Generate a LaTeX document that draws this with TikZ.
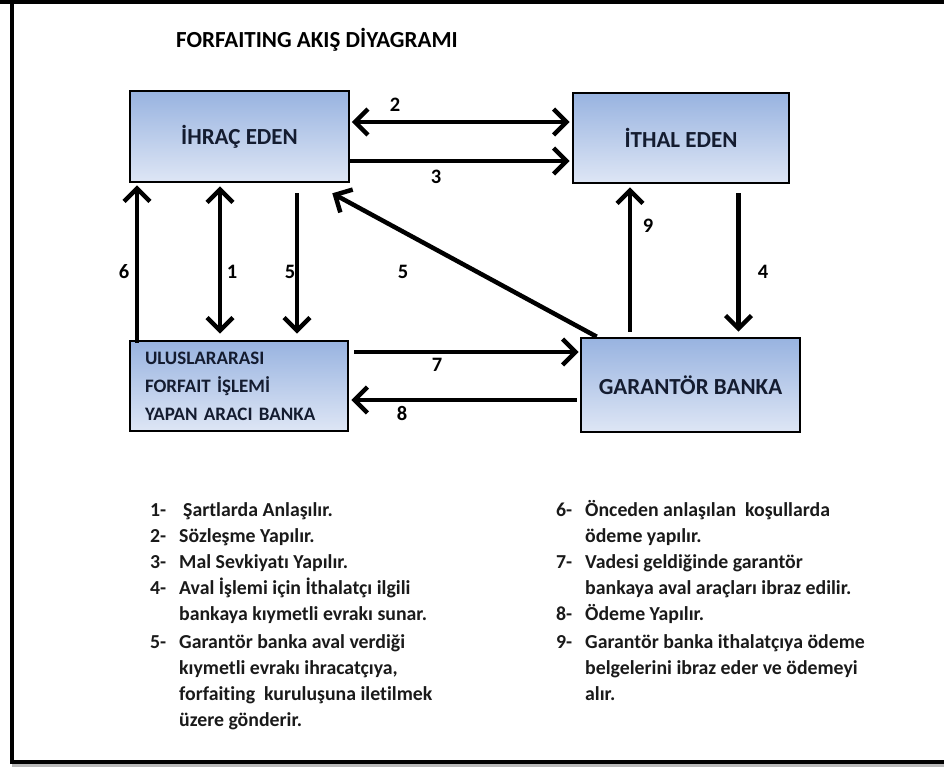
\documentclass[tikz,border=0pt]{standalone}
\usepackage{fontspec}
\setmainfont{Carlito}[Ligatures={NoCommon}]
\usetikzlibrary{arrows.meta,calc}
\definecolor{boxtop}{HTML}{98B3E0}
\definecolor{boxbot}{HTML}{DEE6F5}
\definecolor{boxtext}{HTML}{141C30}
\definecolor{legtext}{HTML}{1A1A1A}
\tikzset{
  flowbox/.style={draw=black, line width=2.6pt, top color=boxtop, bottom color=boxbot,
    minimum width=219pt, minimum height=91pt, inner sep=0pt, text=boxtext,
    font=\fontsize{23}{26}\selectfont\bfseries},
  flowarrow/.style={line width=4.5pt, -{Straight Barb[length=13pt,width=26pt]}},
  flowboth/.style={line width=4.5pt, {Straight Barb[length=13pt,width=26pt]}-{Straight Barb[length=13pt,width=26pt]}},
  numlabel/.style={font=\fontsize{20.5}{22}\selectfont\bfseries, inner sep=0pt},
  legnum/.style={anchor=base west, inner sep=0pt, text=legtext, font=\fontsize{19.8}{22}\selectfont\bfseries},
  legline/.style={anchor=base west, inner sep=0pt, text=legtext, font=\fontsize{19.8}{22}\selectfont\bfseries},
}
\begin{document}
\begin{tikzpicture}[x=1pt,y=-1pt]
\useasboundingbox (0,0) rectangle (944,767);
% frame
\draw[gray!55, line width=3pt] (12,765.5) -- (944,765.5);
\draw[black, line width=4pt] (11.5,-5) -- (11.5,761.5) -- (960,761.5);
\draw[black, line width=4pt] (0,2) -- (960,2);
% title
\node[anchor=base west, inner sep=0pt, font=\fontsize{23}{26}\selectfont\bfseries] (title) at (176,48) {FORFAITING AKIŞ DİYAGRAMI};
% boxes
\node[flowbox] (ihrac) at (239.5,136.5) {İHRAÇ EDEN};
\node[flowbox, minimum width=216pt, minimum height=90pt] (ithal) at (681,138) {İTHAL EDEN};
\node[flowbox, minimum width=218pt, minimum height=90pt, align=left, anchor=center,
      font=\fontsize{19}{28}\selectfont\bfseries, text width=188pt] (ulus) at (239,386)
      {ULUSLARARASI\\FORFAIT\ İŞLEMİ\\YAPAN ARACI BANKA};
\node[flowbox, minimum height=94pt] (garantor) at (690.5,385) {GARANTÖR BANKA};
% connector anchors
\coordinate (p2) at ([yshift=14.5pt]ihrac.east);
\coordinate (p3) at ([yshift=-24.5pt]ihrac.east);
\coordinate (p6) at ([xshift=-102pt]ulus.north);
\coordinate (p1) at ([xshift=-19.5pt]ihrac.south);
\coordinate (p5) at ([xshift=57.5pt]ihrac.south);
\coordinate (p5d) at ([xshift=17pt]garantor.north west);
\coordinate (q5d) at ([xshift=-18pt,yshift=-10pt]ihrac.south east);
\coordinate (p9) at ([xshift=-60.5pt]garantor.north);
\coordinate (p4) at ([xshift=57.5pt]ithal.south);
\coordinate (p7) at ([yshift=34pt]ulus.east);
\coordinate (p8) at ([yshift=-15pt]garantor.west);
% arrows
\draw[flowboth, shorten <=1.5pt, shorten >=2pt] (p2) -- (p2 -| ithal.west);
\draw[flowarrow, shorten >=2pt] (p3) -- (p3 -| ithal.west);
\draw[flowarrow, shorten <=-3pt, shorten >=2pt] (p6) -- (p6 |- ihrac.south);
\draw[flowboth, shorten <=3pt, shorten >=6pt] (p1) -- (p1 |- ulus.north);
\draw[flowarrow, shorten <=10pt, shorten >=6pt] (p5) -- (p5 |- ulus.north);
\draw[flowarrow] (p5d) -- (q5d);
\draw[flowarrow, shorten <=5pt, shorten >=3pt] (p9) -- (p9 |- ithal.south);
\draw[flowarrow, shorten <=9pt, shorten >=5pt] (p4) -- (p4 |- garantor.north);
\draw[flowarrow, shorten <=5pt, shorten >=1pt] (p7) -- (p7 -| garantor.west);
\draw[flowarrow, shorten <=3pt, shorten >=2pt] (p8) -- (p8 -| ulus.east);
% numeric labels
\node[numlabel] (l2) at (395,105) {2};
\node[numlabel] (l3) at (436,177) {3};
\node[numlabel] (l6) at (124,272) {6};
\node[numlabel] (l1) at (232,272) {1};
\node[numlabel] (l5a) at (290,272) {5};
\node[numlabel] (l5b) at (403,272) {5};
\node[numlabel] (l9) at (648,226) {9};
\node[numlabel] (l4) at (763,272) {4};
\node[numlabel] (l7) at (437,365) {7};
\node[numlabel] (l8) at (402,413) {8};
% legend left
\node[legnum] (n1) at (150,516) {1-};
\node[legline] (t1) at (183,516) {Şartlarda Anlaşılır.};
\node[legnum] (n2) at (150,542) {2-};
\node[legline] (t2) at (179,542) {Sözleşme Yapılır.};
\node[legnum] (n3) at (150,568) {3-};
\node[legline] (t3) at (179,568) {Mal Sevkiyatı Yapılır.};
\node[legnum] (n4) at (150,594) {4-};
\node[legline] (t4a) at (179,594) {Aval İşlemi için İthalatçı ilgili};
\node[legline] (t4b) at (179,620) {bankaya kıymetli evrakı sunar.};
\node[legnum] (n5) at (150,648) {5-};
\node[legline] (t5a) at (179,648) {Garantör banka aval verdiği};
\node[legline] (t5b) at (179,674) {kıymetli evrakı ihracatçıya,};
\node[legline] (t5c) at (179,700) {forfaiting\ \ kuruluşuna iletilmek};
\node[legline] (t5d) at (179,726) {üzere gönderir.};
% legend right
\node[legnum] (n6) at (556,516) {6-};
\node[legline] (t6a) at (585,516) {Önceden anlaşılan\ \ koşullarda};
\node[legline] (t6b) at (585,542) {ödeme yapılır.};
\node[legnum] (n7) at (556,568) {7-};
\node[legline] (t7a) at (585,568) {Vadesi geldiğinde garantör};
\node[legline] (t7b) at (585,594) {bankaya aval araçları ibraz edilir.};
\node[legnum] (n8) at (556,620) {8-};
\node[legline] (t8) at (585,620) {Ödeme Yapılır.};
\node[legnum] (n9) at (556,648) {9-};
\node[legline] (t9a) at (585,648) {Garantör banka ithalatçıya ödeme};
\node[legline] (t9b) at (585,674) {belgelerini ibraz eder ve ödemeyi};
\node[legline] (t9c) at (585,700) {alır.};
\end{tikzpicture}
\end{document}
